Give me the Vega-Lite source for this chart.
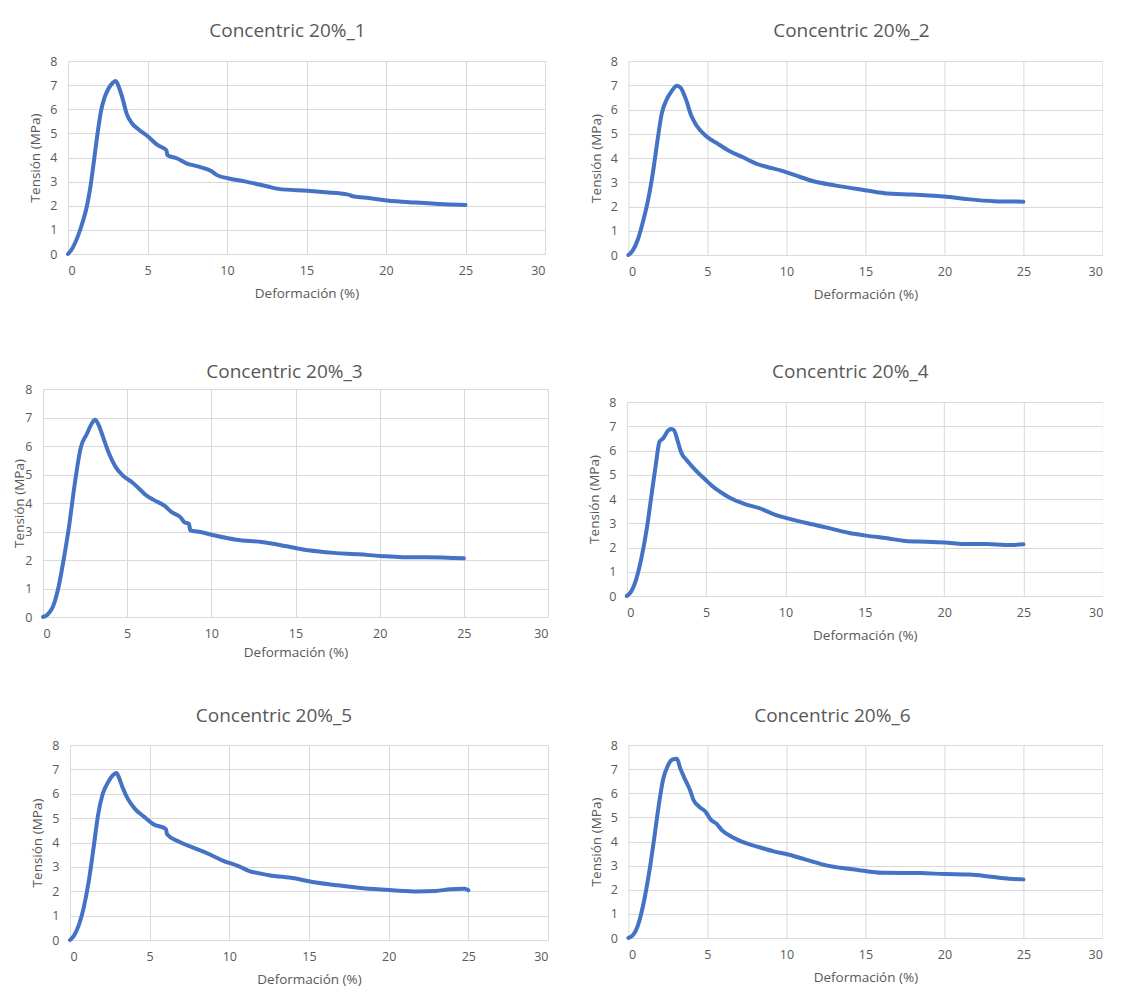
{
  "$schema": "https://vega.github.io/schema/vega-lite/v6.json",
  "padding": {"left": 11, "top": 22, "right": 0, "bottom": 10},
  "background": "white",
  "datasets": {
    "c1": [
      {"deformacion": 0, "tension": 0}, {"deformacion": 0.27, "tension": 0.23}, {"deformacion": 0.61, "tension": 0.72}, {"deformacion": 0.96, "tension": 1.41}, {"deformacion": 1.18, "tension": 1.96}, {"deformacion": 1.41, "tension": 2.79}, {"deformacion": 1.64, "tension": 3.9}, {"deformacion": 1.86, "tension": 5.0}, {"deformacion": 2.09, "tension": 5.97}, {"deformacion": 2.32, "tension": 6.52}, {"deformacion": 2.55, "tension": 6.86}, {"deformacion": 2.82, "tension": 7.1}, {"deformacion": 3.0, "tension": 7.17}, {"deformacion": 3.23, "tension": 6.86}, {"deformacion": 3.46, "tension": 6.38}, {"deformacion": 3.68, "tension": 5.83}, {"deformacion": 4.03, "tension": 5.41}, {"deformacion": 4.48, "tension": 5.14}, {"deformacion": 5.05, "tension": 4.86}, {"deformacion": 5.62, "tension": 4.52}, {"deformacion": 6.19, "tension": 4.3}, {"deformacion": 6.25, "tension": 4.1}, {"deformacion": 6.87, "tension": 3.96}, {"deformacion": 7.44, "tension": 3.76}, {"deformacion": 8.23, "tension": 3.62}, {"deformacion": 9.03, "tension": 3.43}, {"deformacion": 9.37, "tension": 3.27}, {"deformacion": 10.05, "tension": 3.14}, {"deformacion": 11.19, "tension": 3.0}, {"deformacion": 12.55, "tension": 2.8}, {"deformacion": 13.23, "tension": 2.7}, {"deformacion": 15.06, "tension": 2.62}, {"deformacion": 16.2, "tension": 2.56}, {"deformacion": 17.56, "tension": 2.47}, {"deformacion": 18.0, "tension": 2.38}, {"deformacion": 18.9, "tension": 2.32}, {"deformacion": 20.06, "tension": 2.22}, {"deformacion": 21.88, "tension": 2.13}, {"deformacion": 23.7, "tension": 2.06}, {"deformacion": 25.0, "tension": 2.03}
    ],
    "c2": [
      {"deformacion": 0, "tension": 0}, {"deformacion": 0.27, "tension": 0.18}, {"deformacion": 0.61, "tension": 0.66}, {"deformacion": 0.94, "tension": 1.42}, {"deformacion": 1.28, "tension": 2.38}, {"deformacion": 1.57, "tension": 3.48}, {"deformacion": 1.84, "tension": 4.72}, {"deformacion": 2.11, "tension": 5.83}, {"deformacion": 2.4, "tension": 6.38}, {"deformacion": 2.74, "tension": 6.76}, {"deformacion": 3.07, "tension": 6.98}, {"deformacion": 3.3, "tension": 6.9}, {"deformacion": 3.63, "tension": 6.44}, {"deformacion": 3.97, "tension": 5.76}, {"deformacion": 4.31, "tension": 5.34}, {"deformacion": 4.87, "tension": 4.93}, {"deformacion": 5.65, "tension": 4.59}, {"deformacion": 6.33, "tension": 4.31}, {"deformacion": 7.22, "tension": 4.04}, {"deformacion": 8.12, "tension": 3.76}, {"deformacion": 8.79, "tension": 3.63}, {"deformacion": 9.69, "tension": 3.48}, {"deformacion": 10.59, "tension": 3.28}, {"deformacion": 11.71, "tension": 3.04}, {"deformacion": 13.06, "tension": 2.87}, {"deformacion": 14.41, "tension": 2.73}, {"deformacion": 15.08, "tension": 2.66}, {"deformacion": 16.2, "tension": 2.55}, {"deformacion": 18.0, "tension": 2.49}, {"deformacion": 20.0, "tension": 2.41}, {"deformacion": 21.36, "tension": 2.31}, {"deformacion": 23.15, "tension": 2.22}, {"deformacion": 25.0, "tension": 2.2}
    ],
    "c3": [
      {"deformacion": 0, "tension": 0}, {"deformacion": 0.26, "tension": 0.08}, {"deformacion": 0.58, "tension": 0.35}, {"deformacion": 0.9, "tension": 0.99}, {"deformacion": 1.22, "tension": 1.99}, {"deformacion": 1.54, "tension": 3.15}, {"deformacion": 1.86, "tension": 4.56}, {"deformacion": 2.25, "tension": 5.96}, {"deformacion": 2.61, "tension": 6.43}, {"deformacion": 2.89, "tension": 6.78}, {"deformacion": 3.1, "tension": 6.92}, {"deformacion": 3.36, "tension": 6.66}, {"deformacion": 3.57, "tension": 6.31}, {"deformacion": 3.89, "tension": 5.78}, {"deformacion": 4.32, "tension": 5.26}, {"deformacion": 4.75, "tension": 4.96}, {"deformacion": 5.29, "tension": 4.73}, {"deformacion": 5.82, "tension": 4.44}, {"deformacion": 6.03, "tension": 4.32}, {"deformacion": 6.57, "tension": 4.11}, {"deformacion": 7.21, "tension": 3.91}, {"deformacion": 7.64, "tension": 3.68}, {"deformacion": 8.17, "tension": 3.5}, {"deformacion": 8.39, "tension": 3.33}, {"deformacion": 8.67, "tension": 3.27}, {"deformacion": 8.75, "tension": 3.04}, {"deformacion": 9.35, "tension": 2.98}, {"deformacion": 10.21, "tension": 2.86}, {"deformacion": 11.49, "tension": 2.71}, {"deformacion": 12.99, "tension": 2.63}, {"deformacion": 14.49, "tension": 2.48}, {"deformacion": 15.77, "tension": 2.34}, {"deformacion": 17.27, "tension": 2.25}, {"deformacion": 18.77, "tension": 2.2}, {"deformacion": 20.05, "tension": 2.14}, {"deformacion": 21.33, "tension": 2.1}, {"deformacion": 22.83, "tension": 2.1}, {"deformacion": 25.0, "tension": 2.06}
    ],
    "c4": [
      {"deformacion": 0, "tension": 0}, {"deformacion": 0.27, "tension": 0.18}, {"deformacion": 0.61, "tension": 0.73}, {"deformacion": 0.94, "tension": 1.62}, {"deformacion": 1.28, "tension": 2.86}, {"deformacion": 1.57, "tension": 4.23}, {"deformacion": 1.84, "tension": 5.47}, {"deformacion": 2.06, "tension": 6.36}, {"deformacion": 2.29, "tension": 6.5}, {"deformacion": 2.56, "tension": 6.78}, {"deformacion": 2.74, "tension": 6.89}, {"deformacion": 2.96, "tension": 6.85}, {"deformacion": 3.19, "tension": 6.43}, {"deformacion": 3.41, "tension": 5.95}, {"deformacion": 3.86, "tension": 5.54}, {"deformacion": 4.42, "tension": 5.13}, {"deformacion": 4.98, "tension": 4.78}, {"deformacion": 5.43, "tension": 4.51}, {"deformacion": 5.88, "tension": 4.3}, {"deformacion": 6.55, "tension": 4.03}, {"deformacion": 7.45, "tension": 3.79}, {"deformacion": 8.35, "tension": 3.62}, {"deformacion": 9.24, "tension": 3.38}, {"deformacion": 10.14, "tension": 3.2}, {"deformacion": 11.26, "tension": 3.02}, {"deformacion": 12.61, "tension": 2.82}, {"deformacion": 13.96, "tension": 2.61}, {"deformacion": 15.08, "tension": 2.49}, {"deformacion": 16.42, "tension": 2.38}, {"deformacion": 17.55, "tension": 2.27}, {"deformacion": 18.89, "tension": 2.24}, {"deformacion": 20.24, "tension": 2.2}, {"deformacion": 21.13, "tension": 2.14}, {"deformacion": 22.71, "tension": 2.14}, {"deformacion": 23.83, "tension": 2.1}, {"deformacion": 25.0, "tension": 2.13}
    ],
    "c5": [
      {"deformacion": 0, "tension": 0}, {"deformacion": 0.23, "tension": 0.16}, {"deformacion": 0.57, "tension": 0.64}, {"deformacion": 0.86, "tension": 1.33}, {"deformacion": 1.18, "tension": 2.42}, {"deformacion": 1.48, "tension": 3.79}, {"deformacion": 1.77, "tension": 5.16}, {"deformacion": 2.05, "tension": 5.99}, {"deformacion": 2.39, "tension": 6.47}, {"deformacion": 2.68, "tension": 6.75}, {"deformacion": 2.91, "tension": 6.85}, {"deformacion": 3.07, "tension": 6.67}, {"deformacion": 3.3, "tension": 6.26}, {"deformacion": 3.64, "tension": 5.78}, {"deformacion": 4.09, "tension": 5.37}, {"deformacion": 4.66, "tension": 5.05}, {"deformacion": 5.23, "tension": 4.75}, {"deformacion": 6.02, "tension": 4.55}, {"deformacion": 6.09, "tension": 4.34}, {"deformacion": 6.82, "tension": 4.04}, {"deformacion": 7.73, "tension": 3.79}, {"deformacion": 8.64, "tension": 3.55}, {"deformacion": 9.55, "tension": 3.27}, {"deformacion": 10.68, "tension": 3.0}, {"deformacion": 11.14, "tension": 2.86}, {"deformacion": 12.5, "tension": 2.66}, {"deformacion": 14.09, "tension": 2.53}, {"deformacion": 15.23, "tension": 2.38}, {"deformacion": 16.59, "tension": 2.26}, {"deformacion": 18.41, "tension": 2.12}, {"deformacion": 20.23, "tension": 2.04}, {"deformacion": 21.82, "tension": 1.99}, {"deformacion": 22.95, "tension": 2.01}, {"deformacion": 23.86, "tension": 2.08}, {"deformacion": 24.77, "tension": 2.1}, {"deformacion": 25.0, "tension": 2.04}
    ],
    "c6": [
      {"deformacion": 0, "tension": 0}, {"deformacion": 0.29, "tension": 0.12}, {"deformacion": 0.63, "tension": 0.58}, {"deformacion": 0.97, "tension": 1.47}, {"deformacion": 1.31, "tension": 2.7}, {"deformacion": 1.65, "tension": 4.21}, {"deformacion": 1.94, "tension": 5.58}, {"deformacion": 2.21, "tension": 6.61}, {"deformacion": 2.48, "tension": 7.12}, {"deformacion": 2.77, "tension": 7.39}, {"deformacion": 3.07, "tension": 7.43}, {"deformacion": 3.29, "tension": 7.02}, {"deformacion": 3.56, "tension": 6.61}, {"deformacion": 3.9, "tension": 6.13}, {"deformacion": 4.12, "tension": 5.72}, {"deformacion": 4.47, "tension": 5.45}, {"deformacion": 4.92, "tension": 5.2}, {"deformacion": 5.19, "tension": 4.92}, {"deformacion": 5.59, "tension": 4.73}, {"deformacion": 5.93, "tension": 4.46}, {"deformacion": 6.5, "tension": 4.21}, {"deformacion": 7.4, "tension": 3.94}, {"deformacion": 8.3, "tension": 3.76}, {"deformacion": 9.2, "tension": 3.59}, {"deformacion": 10.11, "tension": 3.46}, {"deformacion": 11.23, "tension": 3.25}, {"deformacion": 12.59, "tension": 3.0}, {"deformacion": 13.94, "tension": 2.87}, {"deformacion": 15.07, "tension": 2.77}, {"deformacion": 16.2, "tension": 2.7}, {"deformacion": 18.45, "tension": 2.69}, {"deformacion": 20.03, "tension": 2.65}, {"deformacion": 21.61, "tension": 2.63}, {"deformacion": 22.96, "tension": 2.54}, {"deformacion": 24.09, "tension": 2.46}, {"deformacion": 25.0, "tension": 2.43}
    ]
  },
  "spacing": 48,
  "vconcat": [
    {
      "spacing": 61,
      "vconcat": [
        {
          "spacing": 43.4,
          "hconcat": [
            {
              "spacing": 0,
              "hconcat": [
                {"width": 17, "height": 1, "data": {"values": []}, "mark": "point"},
                {
                  "title": {"text": "Concentric 20%_1", "offset": 14, "dx": -19},
                  "width": 477, "height": 193,
                  "data": {"name": "c1"},
                  "mark": {"type": "line", "color": "#4472C4", "strokeWidth": 4, "strokeCap": "round", "strokeJoin": "round", "interpolate": "monotone"},
                  "encoding": {
                    "x": {"field": "deformacion", "type": "quantitative", "scale": {"domain": [0, 30], "nice": false}, "axis": {"title": "Deformación (%)", "values": [0, 5, 10, 15, 20, 25, 30]}},
                    "y": {"field": "tension", "type": "quantitative", "scale": {"domain": [0, 8], "nice": false}, "axis": {"title": "Tensión (MPa)", "values": [0, 1, 2, 3, 4, 5, 6, 7, 8]}}
                  }
                }
              ]
            },
            {
              "title": {"text": "Concentric 20%_2", "offset": 14, "dx": -14},
              "width": 474, "height": 194,
              "data": {"name": "c2"},
              "mark": {"type": "line", "color": "#4472C4", "strokeWidth": 4, "strokeCap": "round", "strokeJoin": "round", "interpolate": "monotone"},
              "encoding": {
                "x": {"field": "deformacion", "type": "quantitative", "scale": {"domain": [0, 30], "nice": false}, "axis": {"title": "Deformación (%)", "values": [0, 5, 10, 15, 20, 25, 30]}},
                "y": {"field": "tension", "type": "quantitative", "scale": {"domain": [0, 8], "nice": false}, "axis": {"title": "Tensión (MPa)", "values": [0, 1, 2, 3, 4, 5, 6, 7, 8]}}
              }
            }
          ]
        },
        {
          "spacing": 38.8,
          "hconcat": [
            {
              "spacing": 0,
              "vconcat": [
                {"width": 1, "height": 1, "data": {"values": []}, "mark": "point"},
                {
                  "spacing": 0,
                  "hconcat": [
                    {"width": 1, "height": 1, "data": {"values": []}, "mark": "point"},
                    {
                      "title": {"text": "Concentric 20%_3", "offset": 1, "dx": -11},
                      "width": 505, "height": 228,
                      "data": {"name": "c3"},
                      "mark": {"type": "line", "color": "#4472C4", "strokeWidth": 4, "strokeCap": "round", "strokeJoin": "round", "interpolate": "monotone"},
                      "encoding": {
                        "x": {"field": "deformacion", "type": "quantitative", "scale": {"domain": [0, 30], "nice": false}, "axis": {"title": "Deformación (%)", "values": [0, 5, 10, 15, 20, 25, 30], "titlePadding": 5.5}},
                        "y": {"field": "tension", "type": "quantitative", "scale": {"domain": [0, 8], "nice": false}, "axis": {"title": "Tensión (MPa)", "values": [0, 1, 2, 3, 4, 5, 6, 7, 8], "titlePadding": -2}}
                      }
                    }
                  ]
                }
              ]
            },
            {
              "spacing": 0,
              "vconcat": [
                {"width": 1, "height": 1, "data": {"values": []}, "mark": "point"},
                {
                  "title": {"text": "Concentric 20%_4", "offset": 14, "dx": -14.5},
                  "width": 476, "height": 194,
                  "data": {"name": "c4"},
                  "mark": {"type": "line", "color": "#4472C4", "strokeWidth": 4, "strokeCap": "round", "strokeJoin": "round", "interpolate": "monotone"},
                  "encoding": {
                    "x": {"field": "deformacion", "type": "quantitative", "scale": {"domain": [0, 30], "nice": false}, "axis": {"title": "Deformación (%)", "values": [0, 5, 10, 15, 20, 25, 30]}},
                    "y": {"field": "tension", "type": "quantitative", "scale": {"domain": [0, 8], "nice": false}, "axis": {"title": "Tensión (MPa)", "values": [0, 1, 2, 3, 4, 5, 6, 7, 8]}}
                  }
                }
              ]
            }
          ]
        }
      ]
    },
    {
      "spacing": 40.4,
      "hconcat": [
        {
          "spacing": 0,
          "hconcat": [
            {"width": 18.5, "height": 1, "data": {"values": []}, "mark": "point"},
            {
              "title": {"text": "Concentric 20%_5", "offset": 13, "dx": -35},
              "width": 478, "height": 195,
              "data": {"name": "c5"},
              "mark": {"type": "line", "color": "#4472C4", "strokeWidth": 4, "strokeCap": "round", "strokeJoin": "round", "interpolate": "monotone"},
              "encoding": {
                "x": {"field": "deformacion", "type": "quantitative", "scale": {"domain": [0, 30], "nice": false}, "axis": {"title": "Deformación (%)", "values": [0, 5, 10, 15, 20, 25, 30]}},
                "y": {"field": "tension", "type": "quantitative", "scale": {"domain": [0, 8], "nice": false}, "axis": {"title": "Tensión (MPa)", "values": [0, 1, 2, 3, 4, 5, 6, 7, 8]}}
              }
            }
          ]
        },
        {
          "title": {"text": "Concentric 20%_6", "offset": 13, "dx": -33},
          "width": 474, "height": 193,
          "data": {"name": "c6"},
          "mark": {"type": "line", "color": "#4472C4", "strokeWidth": 4, "strokeCap": "round", "strokeJoin": "round", "interpolate": "monotone"},
          "encoding": {
            "x": {"field": "deformacion", "type": "quantitative", "scale": {"domain": [0, 30], "nice": false}, "axis": {"title": "Deformación (%)", "values": [0, 5, 10, 15, 20, 25, 30]}},
            "y": {"field": "tension", "type": "quantitative", "scale": {"domain": [0, 8], "nice": false}, "axis": {"title": "Tensión (MPa)", "values": [0, 1, 2, 3, 4, 5, 6, 7, 8]}}
          }
        }
      ]
    }
  ],
  "config": {
    "view": {"stroke": null},
    "font": "Open Sans",
    "title": {"font": "Open Sans", "fontSize": 19, "fontWeight": "normal", "color": "#595959", "anchor": "middle"},
    "axis": {
      "labelFont": "Open Sans", "labelFontSize": 12.5, "labelColor": "#595959",
      "titleFont": "Open Sans", "titleFontSize": 13.5, "titleFontWeight": "normal", "titleColor": "#595959",
      "gridColor": "#d9d9d9", "gridWidth": 1, "ticks": false, "tickSize": 0, "domain": false
    },
    "axisX": {"domain": true, "domainColor": "#d9d9d9", "labelPadding": 10, "titlePadding": 10},
    "axisY": {"labelPadding": 11, "titlePadding": 7}
  }
}
